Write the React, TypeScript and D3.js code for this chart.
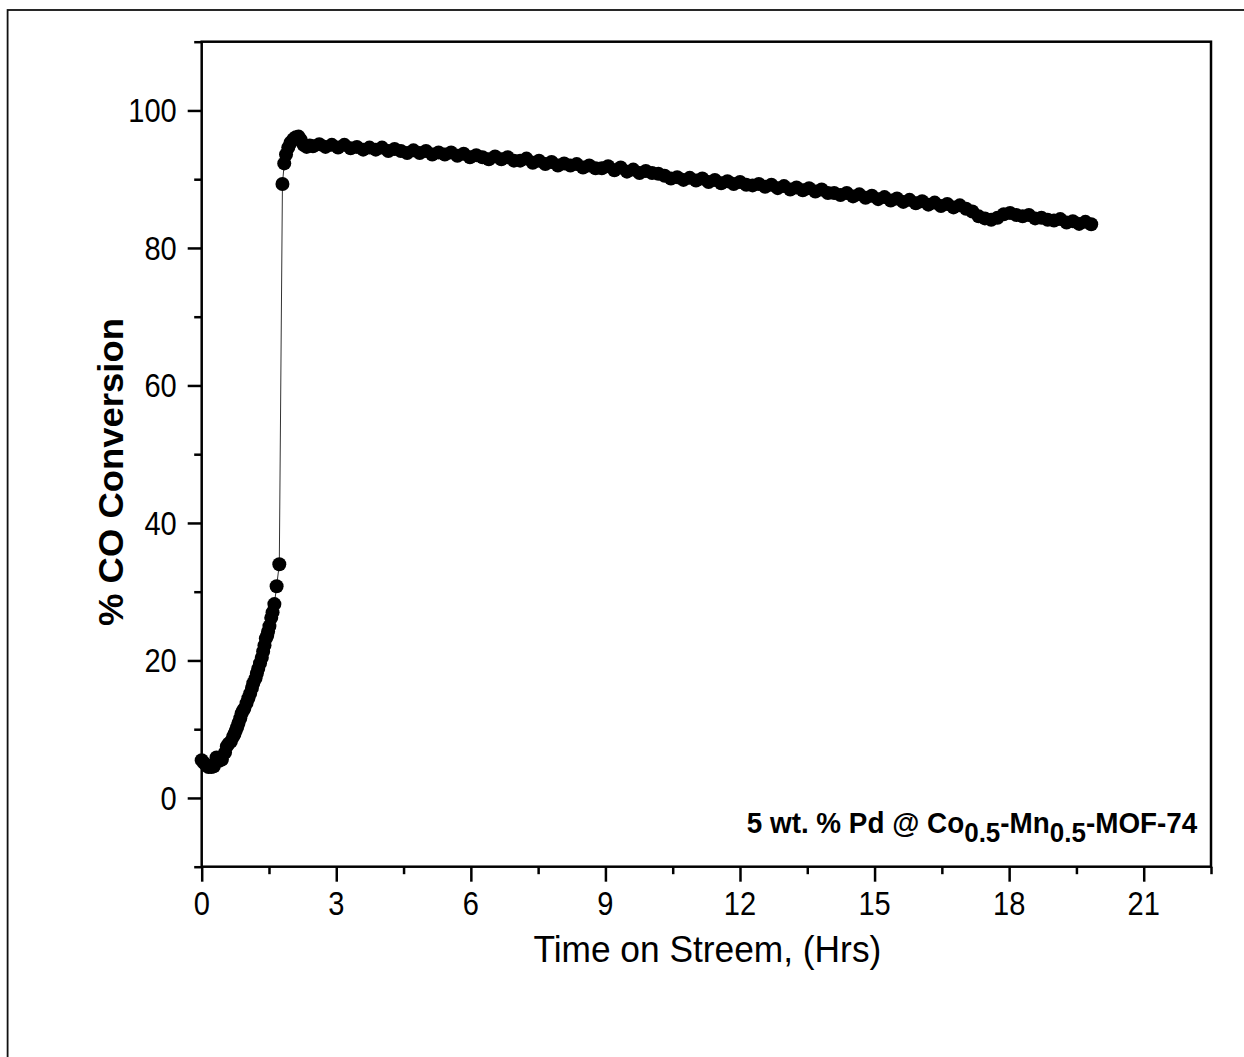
import React, { useEffect, useRef } from "react";
import * as d3 from "d3";

// [time on stream (hrs), % CO conversion]
const rampUp: [number, number][] = [
  [0.0, 5.5], [0.05, 5.1], [0.1, 4.8], [0.15, 4.5], [0.22, 4.5], [0.27, 4.6],
  [0.33, 5.9], [0.39, 5.4], [0.45, 5.6], [0.52, 6.6], [0.56, 7.5], [0.6, 7.9],
  [0.65, 8.2], [0.7, 8.9], [0.73, 9.3], [0.76, 9.8], [0.79, 10.3], [0.82, 10.9],
  [0.86, 11.6], [0.89, 12.3], [0.92, 12.7], [0.95, 13.0], [1.0, 13.8], [1.04, 14.5],
  [1.08, 15.2], [1.12, 16.0], [1.15, 16.7], [1.2, 17.4], [1.23, 18.1], [1.26, 18.8],
  [1.3, 19.6], [1.34, 20.4], [1.37, 21.3], [1.4, 22.2], [1.43, 23.2], [1.46, 23.6],
  [1.48, 24.2], [1.51, 25.0], [1.55, 26.2], [1.58, 27.0], [1.62, 28.2], [1.67, 30.8],
  [1.73, 34.0],
];

const lightOff: [number, number][] = [
  [1.8, 89.3], [1.84, 92.3], [1.88, 93.6], [1.93, 94.6], [1.98, 95.3], [2.04, 95.8],
  [2.1, 96.1], [2.16, 96.2], [2.21, 95.7], [2.27, 95.0], [2.34, 94.7], [2.41, 94.9],
];

const steadyState: [number, number][] = [
  [2.48, 94.8], [2.62, 95.1], [2.76, 94.7], [2.9, 95.0], [3.04, 94.6], [3.18, 95.0],
  [3.32, 94.5], [3.46, 94.7], [3.6, 94.3], [3.74, 94.6], [3.88, 94.3], [4.02, 94.6],
  [4.16, 94.1], [4.3, 94.4], [4.44, 94.1], [4.58, 93.8], [4.72, 94.2], [4.86, 93.8],
  [5.0, 94.1], [5.14, 93.6], [5.28, 93.9], [5.42, 93.6], [5.56, 93.9], [5.7, 93.4],
  [5.84, 93.7], [5.98, 93.2], [6.12, 93.5], [6.26, 93.2], [6.4, 92.9], [6.54, 93.3],
  [6.68, 92.9], [6.82, 93.2], [6.96, 92.7], [7.1, 92.7], [7.24, 93.0], [7.38, 92.4],
  [7.52, 92.7], [7.66, 92.2], [7.8, 92.5], [7.94, 92.0], [8.08, 92.3], [8.22, 92.0],
  [8.36, 92.2], [8.5, 91.7], [8.64, 92.0], [8.78, 91.6], [8.92, 91.6], [9.06, 91.9],
  [9.2, 91.3], [9.34, 91.7], [9.48, 91.1], [9.62, 91.4], [9.76, 90.9], [9.9, 91.2],
  [10.04, 90.9], [10.18, 90.8], [10.32, 90.5], [10.46, 90.1], [10.6, 90.3], [10.74, 89.9],
  [10.88, 90.2], [11.02, 89.8], [11.16, 90.1], [11.3, 89.6], [11.44, 89.9], [11.58, 89.4],
  [11.72, 89.7], [11.86, 89.3], [12.0, 89.6], [12.14, 89.2], [12.28, 89.1], [12.42, 89.3],
  [12.56, 88.9], [12.7, 89.2], [12.84, 88.7], [12.98, 89.0], [13.12, 88.5], [13.26, 88.8],
  [13.4, 88.4], [13.54, 88.7], [13.68, 88.2], [13.82, 88.5], [13.96, 88.0], [14.1, 88.0],
  [14.24, 87.7], [14.38, 88.0], [14.52, 87.5], [14.66, 87.8], [14.8, 87.3], [14.94, 87.6],
  [15.08, 87.1], [15.22, 87.4], [15.36, 86.9], [15.5, 87.2], [15.64, 86.7], [15.78, 87.0],
  [15.92, 86.5], [16.06, 86.8], [16.2, 86.3], [16.34, 86.6], [16.48, 86.1], [16.62, 86.4],
  [16.76, 85.9], [16.9, 86.2], [17.04, 85.7], [17.18, 85.3], [17.32, 84.6], [17.46, 84.3],
  [17.6, 84.1], [17.74, 84.4], [17.88, 84.9], [18.02, 85.1], [18.16, 84.8], [18.3, 84.6],
  [18.44, 84.8], [18.58, 84.3], [18.72, 84.4], [18.86, 84.1], [19.0, 84.0], [19.14, 84.2],
  [19.28, 83.7], [19.42, 83.9], [19.56, 83.5], [19.7, 83.8], [19.83, 83.45],
];

const xMajorTicks = [0, 3, 6, 9, 12, 15, 18, 21];
const xMinorTicks = [1.5, 4.5, 7.5, 10.5, 13.5, 16.5, 19.5, 22.5];
const yMajorTicks = [0, 20, 40, 60, 80, 100];
const yMinorTicks = [-10, 10, 30, 50, 70, 90, 110];

const W = 1244;
const H = 1057;
const FONT = "'Liberation Sans', Arial, Helvetica, sans-serif";

export default function App() {
  const svgRef = useRef<SVGSVGElement>(null);

  useEffect(() => {
    const svg = d3.select(svgRef.current);
    svg.selectAll("*").remove();

    const left = 201.7, right = 1211, top = 41.7, bottom = 866.7;

    const xScale = d3.scaleLinear().domain([0, 22.5]).range([left, right]);
    const yScale = d3.scaleLinear().domain([-10, 110]).range([bottom, top]);

    // outer figure border (runs off the page on right/bottom)
    svg.append("rect")
      .attr("x", 7.6).attr("y", 10)
      .attr("width", W + 50).attr("height", H + 50)
      .attr("fill", "none").attr("stroke", "#111").attr("stroke-width", 1.8);

    const tickAxis = (g: any) => {
      g.select(".domain").remove();
      g.selectAll("line").attr("stroke", "#000").attr("stroke-width", 2.5);
    };

    // x ticks
    svg.append("g").attr("transform", `translate(0,${bottom})`)
      .call(d3.axisBottom(xScale).tickValues(xMajorTicks).tickSize(15).tickSizeOuter(0).tickFormat(() => ""))
      .call(tickAxis);
    svg.append("g").attr("transform", `translate(0,${bottom})`)
      .call(d3.axisBottom(xScale).tickValues(xMinorTicks).tickSize(7.5).tickSizeOuter(0).tickFormat(() => ""))
      .call(tickAxis);

    // y ticks
    svg.append("g").attr("transform", `translate(${left},0)`)
      .call(d3.axisLeft(yScale).tickValues(yMajorTicks).tickSize(14).tickSizeOuter(0).tickFormat(() => ""))
      .call(tickAxis);
    svg.append("g").attr("transform", `translate(${left},0)`)
      .call(d3.axisLeft(yScale).tickValues(yMinorTicks).tickSize(7.5).tickSizeOuter(0).tickFormat(() => ""))
      .call(tickAxis);

    // plot frame
    svg.append("rect")
      .attr("x", left).attr("y", top)
      .attr("width", right - left).attr("height", bottom - top)
      .attr("fill", "none").attr("stroke", "#000").attr("stroke-width", 2.5);

    const squeeze = 0.88;

    svg.append("g").selectAll("text")
      .data(xMajorTicks)
      .join("text")
      .attr("transform", (d) => `translate(${xScale(d)},915) scale(${squeeze},1)`)
      .attr("text-anchor", "middle")
      .attr("font-family", FONT).attr("font-size", 33).attr("fill", "#000")
      .text((d) => d);

    svg.append("g").selectAll("text")
      .data(yMajorTicks)
      .join("text")
      .attr("transform", (d) => `translate(176.7,${yScale(d) + 11.8}) scale(${squeeze},1)`)
      .attr("text-anchor", "end")
      .attr("font-family", FONT).attr("font-size", 33).attr("fill", "#000")
      .text((d) => d);

    // fit a text element to a measured width by horizontal scaling
    const fit = (t: any, base: string, target: number) => {
      const w = t.node().getBBox().width;
      t.attr("transform", `${base} scale(${target / w},1)`);
    };

    const xTitle = svg.append("text")
      .attr("text-anchor", "middle")
      .attr("font-family", FONT).attr("font-size", 37).attr("fill", "#000")
      .text("Time on Streem, (Hrs)");
    fit(xTitle, `translate(${(left + right) / 2 + 1},962)`, 348);

    const yTitle = svg.append("text")
      .attr("text-anchor", "middle")
      .attr("font-family", FONT).attr("font-size", 36).attr("font-weight", "bold").attr("fill", "#000")
      .text("% CO Conversion");
    fit(yTitle, `translate(123,472) rotate(-90)`, 308);

    const note = svg.append("text")
      .attr("text-anchor", "end")
      .attr("font-family", FONT).attr("font-size", 30).attr("font-weight", "bold").attr("fill", "#000");
    note.append("tspan").text("5 wt. % Pd @ Co");
    note.append("tspan").attr("font-size", 28).attr("dy", 8.4).text("0.5");
    note.append("tspan").attr("dy", -8.4).text("-Mn");
    note.append("tspan").attr("font-size", 28).attr("dy", 8.4).text("0.5");
    note.append("tspan").attr("dy", -8.4).text("-MOF-74");
    fit(note, `translate(1197.3,833.3)`, 451);

    const allPoints = [...rampUp, ...lightOff, ...steadyState];

    const line = d3.line<[number, number]>()
      .x((d) => xScale(d[0]))
      .y((d) => yScale(d[1]));

    svg.append("path")
      .datum(allPoints)
      .attr("fill", "none")
      .attr("stroke", "#333")
      .attr("stroke-width", 1)
      .attr("d", line);

    svg.append("g").selectAll("circle")
      .data(allPoints)
      .join("circle")
      .attr("cx", (d) => xScale(d[0]))
      .attr("cy", (d) => yScale(d[1]))
      .attr("r", 7)
      .attr("fill", "#000");
  }, []);

  return (
    <svg
      ref={svgRef}
      width={W}
      height={H}
      style={{ position: "absolute", left: 0, top: 0, background: "#fff" }}
    />
  );
}
